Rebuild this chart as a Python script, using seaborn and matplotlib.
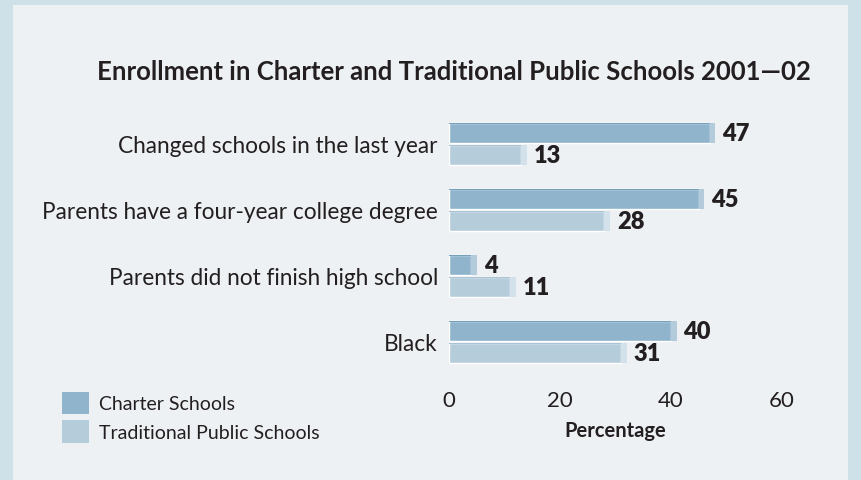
import matplotlib
matplotlib.use("Agg")
import matplotlib.pyplot as plt
from matplotlib.patches import Rectangle, Patch
import seaborn as sns
import pandas as pd

categories = ["Changed schools in the last year",
              "Parents have a four-year college degree",
              "Parents did not finish high school",
              "Black"]
charter = [47, 45, 4, 40]
traditional = [13, 28, 11, 31]
series = ["Charter Schools", "Traditional Public Schools"]
xticks = [0, 20, 40, 60]

df = pd.DataFrame({
    "cat": categories * 2,
    "val": charter + traditional,
    "school": [series[0]] * 4 + [series[1]] * 4,
})

sns.set_style("white")
plt.rcParams["font.family"] = ["Lato", "DejaVu Sans"]

border = "#cfe1e8"
panel = "#eef1f4"
dark = "#231f20"
colors = ["#8fb4cc", "#b5cddb"]
sides = ["#b3cbdb", "#d3e1ea"]
tops = ["#76a1bb", "#a7c3d4"]

fig = plt.figure(figsize=(8.62, 4.81), dpi=100)
fig.patch.set_facecolor(border)
fig.patches.append(Rectangle((13 / 862, 0), (848 - 13) / 862, 1 - 6 / 481,
                             transform=fig.transFigure, facecolor=panel,
                             edgecolor="none", zorder=-10))

ax = fig.add_axes([449 / 862, 1 - 376 / 481, (782 - 449) / 862, 264 / 481])
ax.set_facecolor("none")
sns.barplot(data=df, y="cat", x="val", hue="school", orient="h",
            palette=colors, width=0.66, gap=0.08, ax=ax, legend=False,
            saturation=1)

# 3D-style side strip and top edge on each bar
for cont, side, top in zip(ax.containers, sides, tops):
    for p in cont:
        ax.add_patch(Rectangle((p.get_x() + p.get_width(), p.get_y()), 1.0,
                               p.get_height(), facecolor=side,
                               edgecolor="none"))
        ax.add_patch(Rectangle((p.get_x(), p.get_y()), p.get_width(),
                               p.get_height() * 0.06, facecolor=top,
                               edgecolor="none"))
    ax.bar_label(cont, padding=9, fontsize=17, fontweight="heavy", color=dark)

ax.set_xlim(0, 60)
ax.set_ylim(3.5, -0.5)
ax.set_xticks(xticks)
ax.tick_params(axis="both", length=0, labelsize=16, colors=dark)
ax.tick_params(axis="y", labelsize=16.3, pad=8)
ax.tick_params(axis="x", pad=11)
ax.set_ylabel("")
ax.set_xlabel("Percentage", fontsize=14.5, fontweight="bold", color=dark,
              labelpad=7)
for s in ax.spines.values():
    s.set_visible(False)

fig.text(97 / 862, 1 - 72 / 481,
         "Enrollment in Charter and Traditional Public Schools 2001\u201402",
         fontsize=18.5, fontweight="bold", color=dark, va="center", ha="left")

handles = [Patch(facecolor=c, edgecolor="none") for c in colors]
fig.legend(handles, series, loc="upper left",
           bbox_to_anchor=(54 / 862, 1 - 385 / 481), frameon=False,
           fontsize=14, handlelength=1.4, handleheight=1.4,
           handletextpad=0.5, labelspacing=0.3, labelcolor=dark,
           borderaxespad=0)

fig.savefig("out.png", dpi=100, facecolor=fig.get_facecolor())
